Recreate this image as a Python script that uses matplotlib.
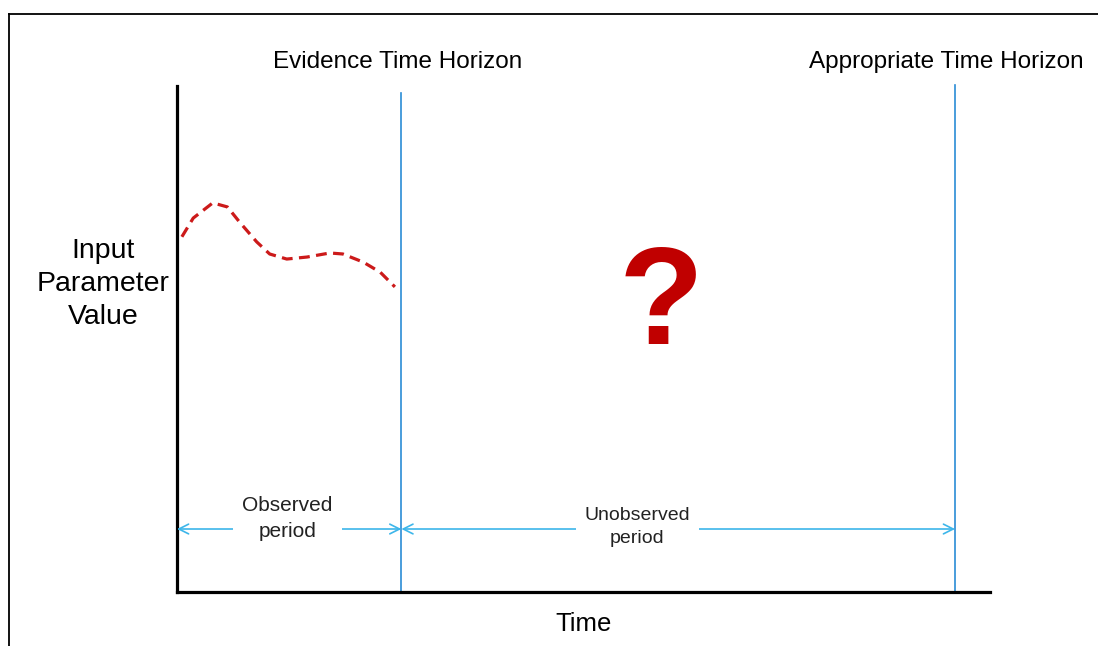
import matplotlib
matplotlib.use("Agg")
import matplotlib.pyplot as plt
from matplotlib.lines import Line2D

plt.rcParams['font.family'] = ['Liberation Sans', 'DejaVu Sans']

# observed input parameter (dashed red curve), time 0..10, value 0..10
obs_t = [0.06, 0.20, 0.44, 0.62, 0.77, 0.98, 1.14, 1.35, 1.60, 1.88, 2.04, 2.29, 2.50, 2.68]
obs_v = [7.02, 7.39, 7.69, 7.61, 7.31, 6.92, 6.68, 6.58, 6.62, 6.70, 6.68, 6.52, 6.32, 6.03]

evidence_t = 2.76      # evidence time horizon
appropriate_t = 9.57   # appropriate time horizon
horizon_tops = [9.86, 10.02]
horizon_labels = ['Evidence Time Horizon', 'Appropriate Time Horizon']
horizon_label_x = [2.71, 9.46]

period_labels = ['Observed\nperiod', 'Unobserved\nperiod']
period_x = [1.36, 5.66]
period_y = [1.45, 1.28]
period_size = [15, 14]
arrow_y = 1.245

fig = plt.figure(figsize=(10.98, 6.46), dpi=100)
ax = fig.add_axes([177/1098, 54/646, 813/1098, 506/646])
ax.set_xlim(0, 10)
ax.set_ylim(0, 10)

# outer frame (top and left edges visible)
fig.add_artist(Line2D([9/1098, 1], [1-14/646, 1-14/646], color='black', lw=1.3))
fig.add_artist(Line2D([9/1098, 9/1098], [0, 1-14/646], color='black', lw=1.3))

for s in ['top', 'right']:
    ax.spines[s].set_visible(False)
for s in ['left', 'bottom']:
    ax.spines[s].set_linewidth(2.3)
    ax.spines[s].set_capstyle('projecting')
ax.set_xticks([])
ax.set_yticks([])

ax.plot(obs_t, obs_v, color='#CC1A1A', lw=2.3, ls=(0, (3.4, 2.0)))

blue = '#2A8CD6'
light = '#3DB6EA'
for t, top in zip([evidence_t, appropriate_t], horizon_tops):
    ax.plot([t, t], [0, top], color=blue, lw=1.2, clip_on=False)

for t, lab, lx in zip([evidence_t, appropriate_t], horizon_labels, horizon_label_x):
    ax.text(lx, 10.47, lab, ha='center', va='center', fontsize=17.5, color='black')

# period arrows
spans = [(0, evidence_t), (evidence_t, appropriate_t)]
for (a, b), lab, px, py, fs in zip(spans, period_labels, period_x, period_y, period_size):
    ax.annotate('', xy=(a, arrow_y), xytext=(b, arrow_y),
                arrowprops=dict(arrowstyle='<->,head_length=0.7,head_width=0.35',
                                color=light, lw=1.2, shrinkA=0, shrinkB=0))
    ax.text(px, py, lab, ha='center', va='center', fontsize=fs, color='#222222',
            linespacing=1.45,
            bbox=dict(boxstyle='square,pad=0.45', fc='white', ec='none'))

ax.text(5.95, 5.61, '?', ha='center', va='center', fontsize=100,
        fontweight='bold', color='#C00000')

ax.text(-0.91, 6.09, 'Input\nParameter\nValue', ha='center', va='center',
        fontsize=20.5, linespacing=1.35)
ax.text(5.0, -0.63, 'Time', ha='center', va='center', fontsize=18.5)

fig.savefig('out.png', dpi=100)
